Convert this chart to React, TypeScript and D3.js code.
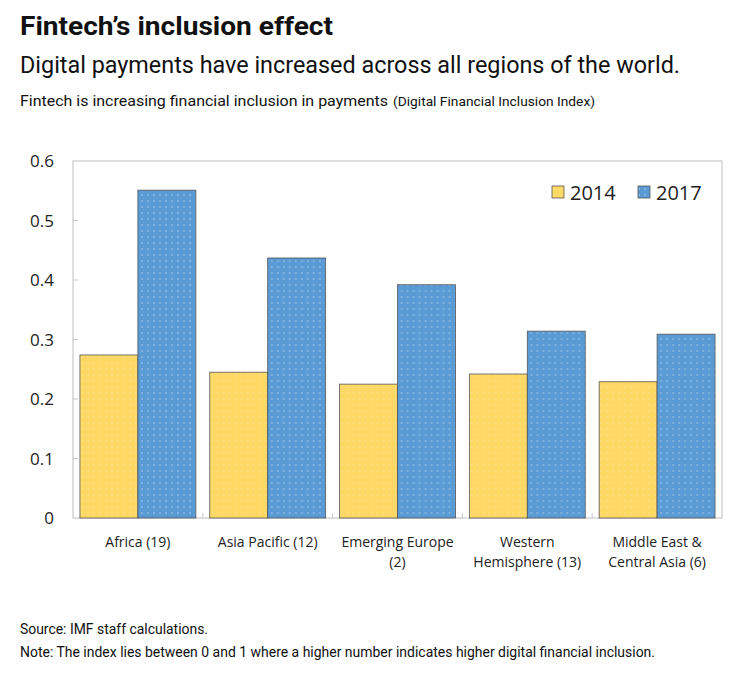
import React, { useEffect, useRef } from "react";
import * as d3 from "d3";

const regions = [
  "Africa (19)",
  "Asia Pacific (12)",
  "Emerging Europe (2)",
  "Western Hemisphere (13)",
  "Middle East & Central Asia (6)",
];
// wrapped labels as in the source chart
const regionLines = [
  ["Africa (19)"],
  ["Asia Pacific (12)"],
  ["Emerging Europe", "(2)"],
  ["Western", "Hemisphere (13)"],
  ["Middle East &", "Central Asia (6)"],
];
const years = ["2014", "2017"];
const values2014 = [0.274, 0.245, 0.225, 0.242, 0.229];
const values2017 = [0.551, 0.437, 0.392, 0.314, 0.309];
const yTicks = [0, 0.1, 0.2, 0.3, 0.4, 0.5, 0.6];

const colors: Record<string, string> = { "2014": "#fdd865", "2017": "#5b9bd5" };

function App() {
  const svgRef = useRef<SVGSVGElement>(null);

  useEffect(() => {
    const width = 740, height = 685;
    const svg = d3.select(svgRef.current);
    svg.selectAll("*").remove();
    svg.attr("width", width).attr("height", height);

    const left = 73, right = 722, top = 161, bottom = 518;

    // dotted fills
    const defs = svg.append("defs");
    years.forEach(yr => {
      const p = defs.append("pattern")
        .attr("id", "dots" + yr)
        .attr("width", 6).attr("height", 6)
        .attr("patternUnits", "userSpaceOnUse");
      p.append("rect").attr("width", 6).attr("height", 6).attr("fill", colors[yr]);
      p.append("circle").attr("cx", 3).attr("cy", 3).attr("r", 0.8)
        .attr("fill", "#fff").attr("opacity", yr === "2014" ? 0.3 : 0.5);
    });

    // headings
    svg.append("text").attr("x", 20).attr("y", 35)
      .attr("font-family", "Roboto").attr("font-weight", 700).attr("font-size", 26)
      .attr("textLength", 313).attr("lengthAdjust", "spacingAndGlyphs")
      .attr("fill", "#111").text("Fintech’s inclusion effect");
    svg.append("text").attr("x", 20).attr("y", 73)
      .attr("font-family", "Roboto").attr("font-size", 23)
      .attr("textLength", 660).attr("lengthAdjust", "spacingAndGlyphs")
      .attr("fill", "#111").text("Digital payments have increased across all regions of the world.");
    svg.append("text").attr("x", 20).attr("y", 106)
      .attr("font-family", "Roboto").attr("font-size", 15)
      .attr("textLength", 368).attr("lengthAdjust", "spacingAndGlyphs")
      .attr("fill", "#111").text("Fintech is increasing financial inclusion in payments");
    svg.append("text").attr("x", 393).attr("y", 106)
      .attr("font-family", "Roboto").attr("font-size", 13)
      .attr("textLength", 202).attr("lengthAdjust", "spacingAndGlyphs")
      .attr("fill", "#111").text("(Digital Financial Inclusion Index)");

    const x0 = d3.scaleBand().domain(regions).range([left, right]).padding(0);
    const x1 = d3.scaleBand().domain(years).range([0, x0.bandwidth()]).paddingOuter(0.12).paddingInner(0);
    const y = d3.scaleLinear().domain([0, 0.6]).range([bottom, top]);

    // frame
    svg.append("rect").attr("x", left).attr("y", top)
      .attr("width", right - left).attr("height", bottom - top)
      .attr("fill", "none").attr("stroke", "#c8c8c8").attr("stroke-width", 1.2);

    // y ticks
    const g = svg.append("g");
    yTicks.forEach(t => {
      if (t > 0 && t < 0.6) {
        g.append("line").attr("x1", left).attr("x2", left + 5)
          .attr("y1", y(t)).attr("y2", y(t)).attr("stroke", "#c8c8c8");
      }
      g.append("text").attr("x", 54).attr("y", y(t) + 6)
        .attr("text-anchor", "end").attr("font-family", "Open Sans").attr("font-size", 17)
        .attr("fill", "#222").text(d3.format("")(t));
    });

    // separators on x axis
    regions.slice(1).forEach(r => {
      const xx = x0(r)!;
      g.append("line").attr("x1", xx).attr("x2", xx).attr("y1", bottom).attr("y2", bottom - 5)
        .attr("stroke", "#c8c8c8");
    });

    // bars
    const rows = regions.map((r, i) => ({ region: r, vals: [values2014[i], values2017[i]] }));
    const grp = svg.append("g").selectAll("g").data(rows).enter().append("g")
      .attr("transform", d => `translate(${x0(d.region)},0)`);
    grp.selectAll("rect")
      .data(d => years.map((yr, j) => ({ yr, v: d.vals[j] })))
      .enter().append("rect")
      .attr("x", d => x1(d.yr)!)
      .attr("y", d => y(d.v))
      .attr("width", x1.bandwidth())
      .attr("height", d => bottom - y(d.v))
      .attr("fill", d => `url(#dots${d.yr})`)
      .attr("stroke", "#555").attr("stroke-width", 0.8);

    // category labels
    regions.forEach((r, i) => {
      const cx = x0(r)! + x0.bandwidth() / 2;
      const t = svg.append("text").attr("text-anchor", "middle")
        .attr("font-family", "Open Sans").attr("font-size", 14).attr("fill", "#222");
      regionLines[i].forEach((ln, k) => {
        t.append("tspan").attr("x", cx).attr("y", 547 + k * 20).text(ln);
      });
    });

    // legend
    const legendX = [552, 638];
    years.forEach((yr, i) => {
      svg.append("rect").attr("x", legendX[i]).attr("y", 186).attr("width", 12).attr("height", 12)
        .attr("fill", `url(#dots${yr})`).attr("stroke", "#555").attr("stroke-width", 0.8);
      svg.append("text").attr("x", legendX[i] + 18).attr("y", 200)
        .attr("font-family", "Open Sans").attr("font-size", 20).attr("fill", "#222").text(yr);
    });

    // notes
    svg.append("text").attr("x", 20).attr("y", 634)
      .attr("font-family", "Roboto").attr("font-size", 14)
      .attr("textLength", 188).attr("lengthAdjust", "spacingAndGlyphs")
      .attr("fill", "#111").text("Source: IMF staff calculations.");
    svg.append("text").attr("x", 20).attr("y", 657)
      .attr("font-family", "Roboto").attr("font-size", 14)
      .attr("textLength", 635).attr("lengthAdjust", "spacingAndGlyphs")
      .attr("fill", "#111").text("Note: The index lies between 0 and 1 where a higher number indicates higher digital financial inclusion.");
  }, []);

  return (
    <div style={{ margin: -8 }}>
      <svg ref={svgRef}></svg>
    </div>
  );
}

export default App;
